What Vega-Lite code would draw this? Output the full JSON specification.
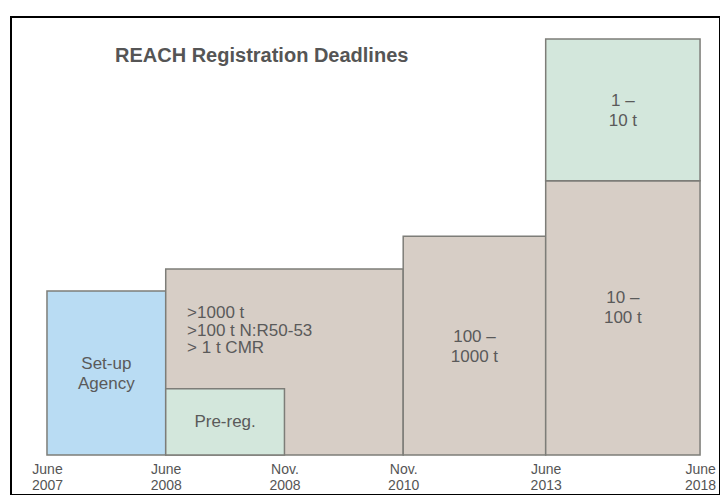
{
  "$schema": "https://vega.github.io/schema/vega-lite/v6.json",
  "width": 709,
  "height": 478,
  "autosize": {"type": "none"},
  "padding": {"left": 11, "top": 17, "right": 0, "bottom": 0},
  "background": "white",
  "title": {
    "text": "REACH Registration Deadlines",
    "anchor": "start",
    "orient": "top",
    "offset": -59,
    "dx": 104,
    "baseline": "middle",
    "fontSize": 20,
    "font": "Liberation Sans",
    "fontWeight": "bold",
    "color": "#555555"
  },
  "config": {"view": {"stroke": "black", "strokeWidth": 2}},
  "datasets": {
    "boxes": [
      {"name": "Set-up Agency", "tier": "agency", "x1": 0, "x2": 1, "y1": 0, "y2": 39.4},
      {"name": "First registration", "tier": "registration", "x1": 1, "x2": 3, "y1": 0, "y2": 44.7},
      {"name": "Pre-registration", "tier": "light", "x1": 1, "x2": 2, "y1": 0, "y2": 15.9},
      {"name": "100-1000 t", "tier": "registration", "x1": 3, "x2": 4.2, "y1": 0, "y2": 52.6},
      {"name": "10-100 t", "tier": "registration", "x1": 4.2, "x2": 5.5, "y1": 0, "y2": 65.9},
      {"name": "1-10 t", "tier": "light", "x1": 4.2, "x2": 5.5, "y1": 65.9, "y2": 100}
    ],
    "centerLabels": [
      {"label": "Set-up\nAgency", "lx": 0.5, "ly": 21.9},
      {"label": "Pre-reg.", "lx": 1.5, "ly": 7.9},
      {"label": "100 –\n1000 t", "lx": 3.6, "ly": 28.4},
      {"label": "10 –\n100 t", "lx": 4.85, "ly": 37.7},
      {"label": "1 –\n10 t", "lx": 4.85, "ly": 85.1}
    ],
    "leftLabels": [
      {"label": ">1000 t\n>100 t N:R50-53\n> 1 t CMR", "lx": 1.18, "ly": 34.1}
    ]
  },
  "layer": [
    {
      "data": {"name": "boxes"},
      "mark": {"type": "rect", "stroke": "#7d7d78", "strokeWidth": 1.5},
      "encoding": {
        "x": {
          "field": "x1",
          "type": "quantitative",
          "scale": {"domain": [-0.303, 5.668], "nice": false, "zero": false},
          "axis": {
            "values": [0, 1, 2, 3, 4.2, 5.5],
            "labelExpr": "datum.value == 0 ? ['June','2007'] : datum.value == 1 ? ['June','2008'] : datum.value == 2 ? ['Nov.','2008'] : datum.value == 3 ? ['Nov.','2010'] : datum.value == 4.2 ? ['June','2013'] : ['June','2018']",
            "title": null,
            "domain": false,
            "ticks": false,
            "grid": false,
            "offset": -40,
            "labelPadding": 7,
            "labelFontSize": 14,
            "labelFont": "Liberation Sans",
            "labelColor": "#555555",
            "labelLineHeight": 16,
            "labelBaseline": "top",
            "labelOverlap": false,
            "labelFlush": false,
            "labelBound": false
          }
        },
        "x2": {"field": "x2"},
        "y": {
          "field": "y1",
          "type": "quantitative",
          "scale": {"domain": [-9.615, 105.29], "nice": false, "zero": false},
          "axis": null
        },
        "y2": {"field": "y2"},
        "color": {
          "field": "tier",
          "type": "nominal",
          "scale": {"domain": ["agency", "registration", "light"], "range": ["#b9dcf3", "#d7cec6", "#d3e7dc"]},
          "legend": null
        }
      }
    },
    {
      "data": {"name": "centerLabels"},
      "mark": {"type": "text", "font": "Liberation Sans", "fontSize": 17, "color": "#5a5a5a", "lineBreak": "\n", "lineHeight": 20, "baseline": "middle", "align": "center"},
      "encoding": {
        "x": {"field": "lx", "type": "quantitative"},
        "y": {"field": "ly", "type": "quantitative"},
        "text": {"field": "label"}
      }
    },
    {
      "data": {"name": "leftLabels"},
      "mark": {"type": "text", "font": "Liberation Sans", "fontSize": 17, "color": "#5a5a5a", "lineBreak": "\n", "lineHeight": 17.5, "baseline": "middle", "align": "left"},
      "encoding": {
        "x": {"field": "lx", "type": "quantitative"},
        "y": {"field": "ly", "type": "quantitative"},
        "text": {"field": "label"}
      }
    }
  ]
}
